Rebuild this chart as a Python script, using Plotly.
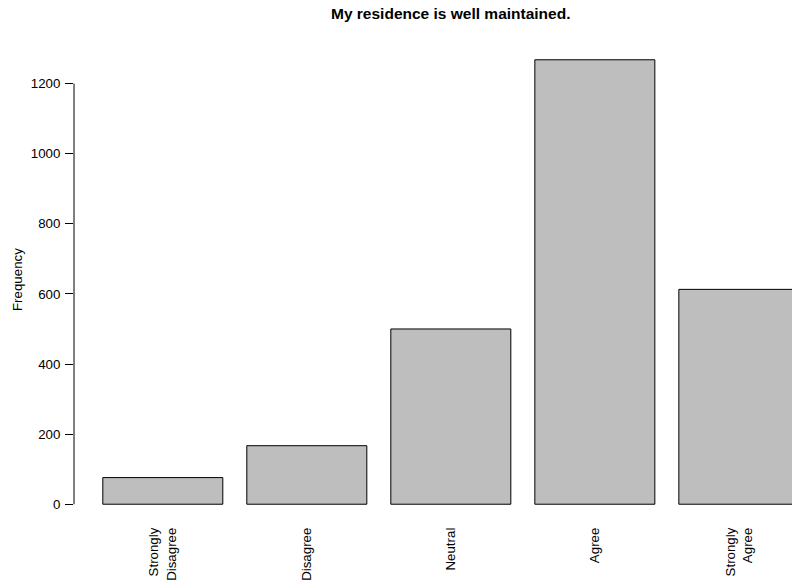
import plotly.graph_objects as go

categories = ["Strongly<br>Disagree", "Disagree", "Neutral", "Agree", "Strongly<br>Agree"]
frequencies = [76, 167, 500, 1268, 613]
positions = [0.7, 1.9, 3.1, 4.3, 5.5]
y_ticks = [0, 200, 400, 600, 800, 1000, 1200]

FONT = "Liberation Sans, Arial, Helvetica, sans-serif"

fig = go.Figure()
fig.add_trace(go.Bar(
    x=positions, y=frequencies, width=1.0,
    marker=dict(color="#BEBEBE", line=dict(color="black", width=1)),
    hoverinfo="skip",
))

fig.update_layout(
    width=792, height=583,
    margin=dict(l=74, r=0, t=42, b=61),
    paper_bgcolor="white", plot_bgcolor="white",
    showlegend=False,
    font=dict(family=FONT, size=13, color="black"),
    xaxis=dict(
        range=[-0.04, 5.943], tickmode="array", tickvals=positions, ticktext=categories,
        tickangle=-90, showline=False, showgrid=False, zeroline=False, ticks="",
        tickfont=dict(size=13.3), ticklabelstandoff=2, automargin=False,
    ),
    yaxis=dict(
        range=[-50.7, 1318.7], tickmode="array", tickvals=y_ticks,
        ticktext=[str(v) for v in y_ticks],
        showline=False, showgrid=False, zeroline=False,
        ticks="outside", ticklen=8, tickcolor="black", tickwidth=1,
        tickfont=dict(size=13.3), ticklabelstandoff=2, automargin=False,
    ),
    shapes=[dict(type="line", xref="paper", yref="y", x0=0, x1=0,
                 y0=y_ticks[0], y1=y_ticks[-1], line=dict(color="black", width=1))],
    annotations=[
        dict(text="<b>My residence is well maintained.</b>", xref="paper", yref="paper",
             x=(451 - 74) / 718, y=1 + (42 - 14) / 480, xanchor="center", yanchor="middle",
             showarrow=False, font=dict(size=15.5)),
        dict(text="Frequency", xref="paper", yref="paper", textangle=-90,
             x=-(74 - 17) / 718, y=(522 - 280) / 480, xanchor="center", yanchor="middle",
             showarrow=False, font=dict(size=13.3)),
    ],
)

fig.write_html("out.html", config={"displayModeBar": False},
               post_script="document.body.style.margin='0';document.body.style.overflow='hidden';")
